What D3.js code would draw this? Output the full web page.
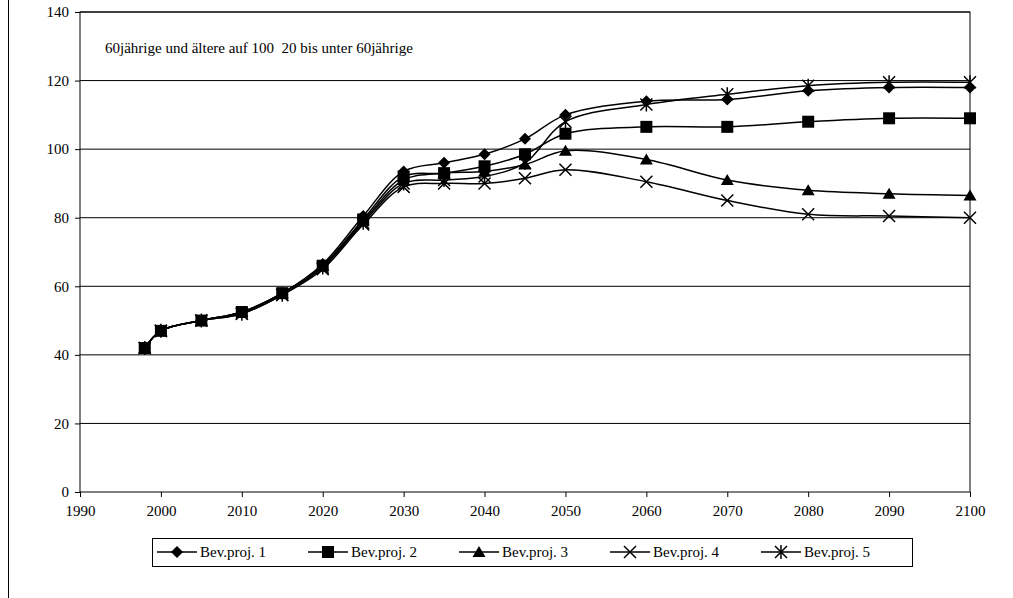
<!DOCTYPE html>
<html><head><meta charset="utf-8">
<script src="https://cdn.jsdelivr.net/npm/d3@7"></script>
<style>body{margin:0;background:#fff}svg text{font-family:"Liberation Serif","Times New Roman",serif !important}</style>
</head><body><svg id="c" width="1013" height="598"></svg>
<script>
const years = [1998, 2000, 2005, 2010, 2015, 2020, 2025, 2030, 2035, 2040, 2045, 2050, 2060, 2070, 2080, 2090, 2100];
const seriesNames = ["Bev.proj. 1", "Bev.proj. 2", "Bev.proj. 3", "Bev.proj. 4", "Bev.proj. 5"];
const proj1 = [42, 47, 50, 52.5, 58, 66.5, 80.5, 93.5, 96, 98.5, 103, 110, 114, 114.5, 117, 118, 118];
const proj2 = [42, 47, 50, 52.5, 58, 66, 79.5, 92, 93, 95, 98.5, 104.5, 106.5, 106.5, 108, 109, 109];
const proj3 = [42, 47, 50, 52.5, 58, 66, 79, 91, 93, 93.5, 95.5, 99.5, 97, 91, 88, 87, 86.5];
const proj4 = [42, 47, 50, 52, 57.5, 65, 78, 89, 90, 90, 91.5, 94, 90.5, 85, 81, 80.5, 80];
const proj5 = [42, 47, 50, 52, 57.5, 65.5, 78.5, 90, 91, 92, 96, 108, 113, 116, 118.5, 119.5, 119.5];
const allSeries = [proj1, proj2, proj3, proj4, proj5];
const markers = ["diamond", "square", "triangle", "x", "star"];
const xTicks = d3.range(1990, 2101, 10);
const yTicks = d3.range(0, 141, 20);

const svg = d3.select("#c");
const x = d3.scaleLinear().domain([1990, 2100]).range([80, 970]);
const y = d3.scaleLinear().domain([0, 140]).range([492, 12]);

svg.append("line").attr("x1", 8.5).attr("x2", 8.5).attr("y1", 0).attr("y2", 598).attr("stroke", "#000");

svg.append("g").selectAll("line").data(yTicks.slice(1)).join("line")
  .attr("x1", 80).attr("x2", 970).attr("y1", d => y(d)).attr("y2", d => y(d)).attr("stroke", "#000");
svg.append("rect").attr("x", 80).attr("y", 12).attr("width", 890).attr("height", 480)
  .attr("fill", "none").attr("stroke", "#000");

svg.append("g").attr("transform", "translate(80,0)")
  .call(d3.axisLeft(y).tickValues(yTicks).tickSize(5).tickPadding(6))
  .call(g => g.select(".domain").remove())
  .selectAll("text").style("font-size", "15px").attr("fill", "#000");
svg.append("g").attr("transform", "translate(0,492)")
  .call(d3.axisBottom(x).tickValues(xTicks).tickFormat(d3.format("d")).tickSize(5).tickPadding(8))
  .call(g => g.select(".domain").remove())
  .selectAll("text").style("font-size", "15px").attr("fill", "#000");

svg.append("text").attr("x", 105).attr("y", 53).style("font-size", "15px").style("white-space", "pre")
  .text("60jährige und ältere auf 100  20 bis unter 60jährige");

function marker(g, type) {
  if (type === "diamond") g.append("path").attr("d", "M0,-6L6,0L0,6L-6,0Z");
  else if (type === "square") g.append("rect").attr("x", -6).attr("y", -6).attr("width", 12).attr("height", 12);
  else if (type === "triangle") g.append("path").attr("d", "M0,-6L6.5,5L-6.5,5Z");
  else {
    const p = type === "x" ? "M-6,-6L6,6M-6,6L6,-6" : "M-6,-6L6,6M-6,6L6,-6M0,-7V7";
    g.append("path").attr("d", p).attr("stroke", "#000").attr("stroke-width", 1.5).attr("fill", "none");
  }
}

const line = d3.line().x((d, i) => x(years[i])).y(d => y(d)).curve(d3.curveCatmullRom.alpha(0.5));
allSeries.forEach((s, k) => {
  svg.append("path").attr("d", line(s)).attr("fill", "none").attr("stroke", "#000").attr("stroke-width", 1.5);
  s.forEach((v, i) => marker(svg.append("g").attr("transform", `translate(${x(years[i])},${y(v)})`), markers[k]));
});

const lg = svg.append("g");
lg.append("rect").attr("x", 152.5).attr("y", 538.5).attr("width", 760).attr("height", 28).attr("fill", "none").attr("stroke", "#000");
seriesNames.forEach((n, k) => {
  const x0 = 157 + k * 151;
  lg.append("line").attr("x1", x0).attr("x2", x0 + 40).attr("y1", 552).attr("y2", 552).attr("stroke", "#000").attr("stroke-width", 1.5);
  marker(lg.append("g").attr("transform", `translate(${x0 + 20},552)`), markers[k]);
  lg.append("text").attr("x", x0 + 43).attr("y", 557).style("font-size", "15px").text(n);
});
</script></body></html>
